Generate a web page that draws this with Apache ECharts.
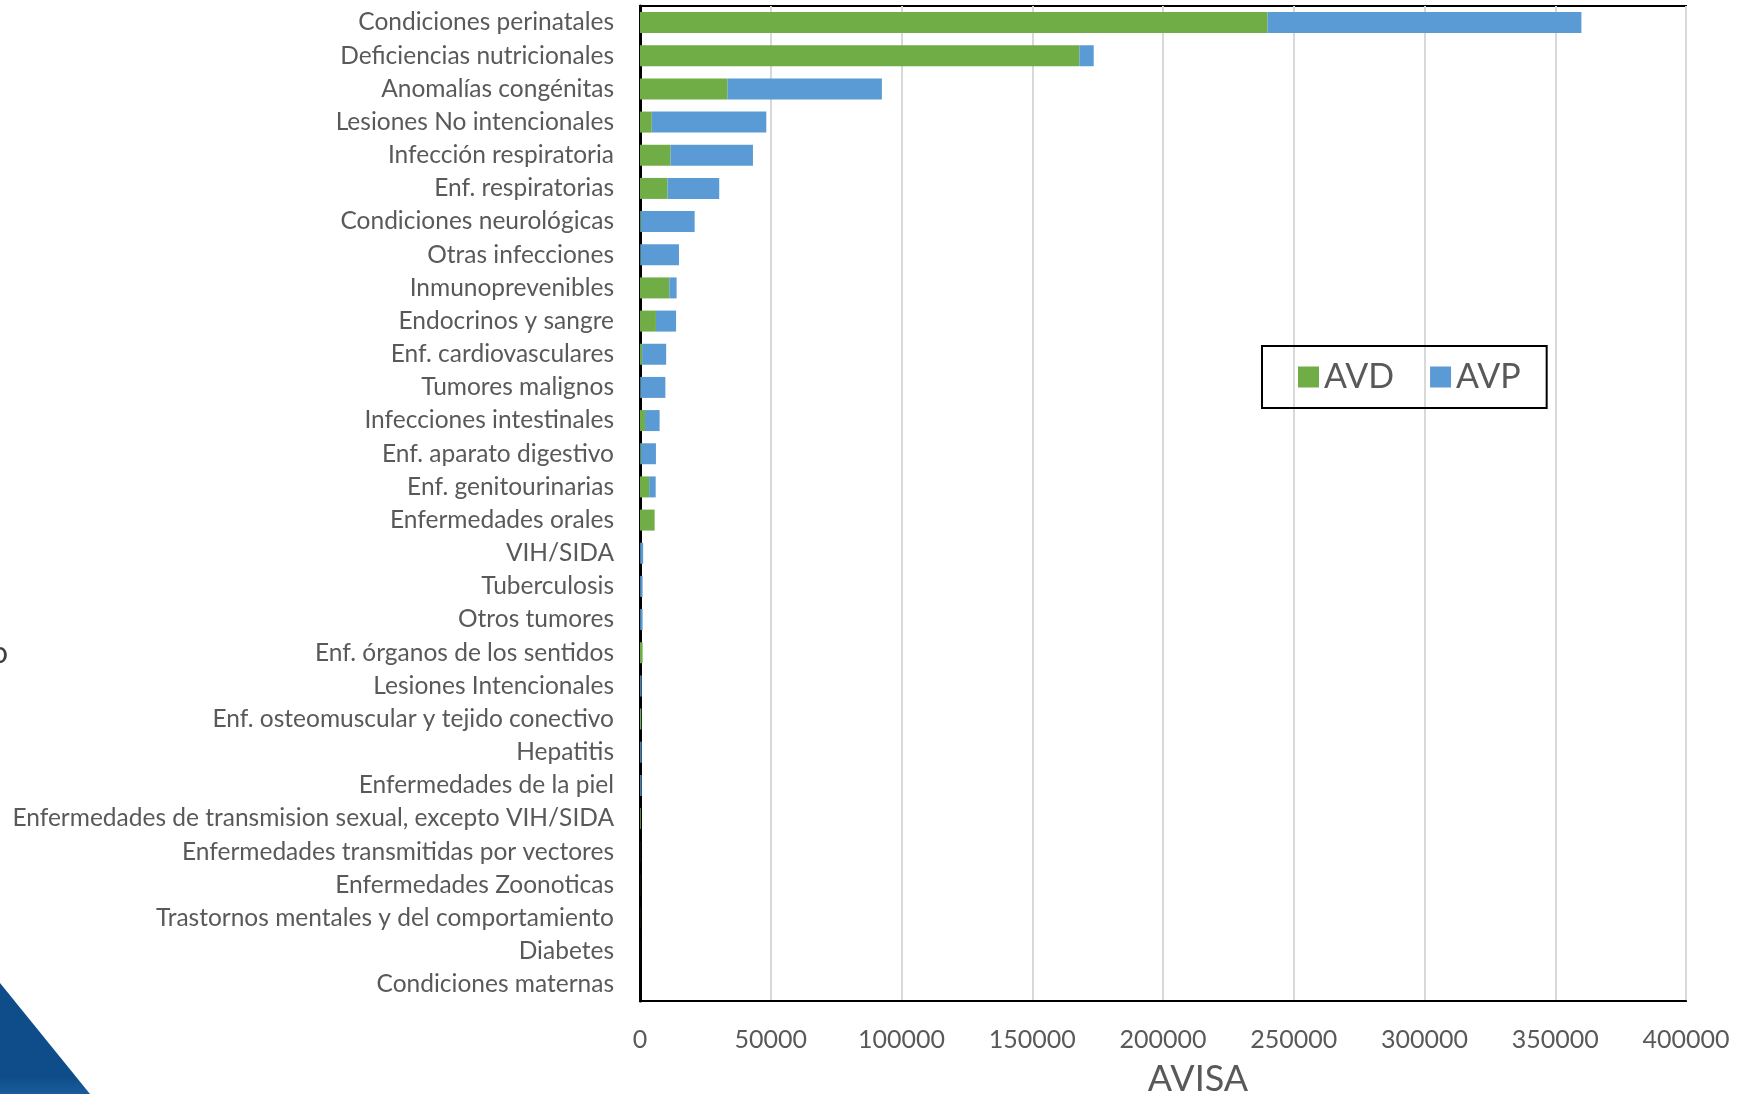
<!DOCTYPE html>
<html>
<head>
<meta charset="utf-8">
<script src="https://cdn.jsdelivr.net/npm/echarts@6/dist/echarts.min.js"></script>
<style>
  html, body { margin: 0; padding: 0; background: #fff; }
  #main { width: 1752px; height: 1094px; }
</style>
</head>
<body>
<div id="main"></div>
<script>
  // categorias (de arriba hacia abajo)
  var categories = [
    'Condiciones perinatales', 'Deficiencias nutricionales', 'Anomalías congénitas',
    'Lesiones No intencionales', 'Infección respiratoria', 'Enf. respiratorias',
    'Condiciones neurológicas', 'Otras infecciones', 'Inmunoprevenibles',
    'Endocrinos y sangre', 'Enf. cardiovasculares', 'Tumores malignos',
    'Infecciones intestinales', 'Enf. aparato digestivo', 'Enf. genitourinarias',
    'Enfermedades orales', 'VIH/SIDA', 'Tuberculosis', 'Otros tumores',
    'Enf. órganos de los sentidos', 'Lesiones Intencionales',
    'Enf. osteomuscular y tejido conectivo', 'Hepatitis', 'Enfermedades de la piel',
    'Enfermedades de transmision sexual, excepto VIH/SIDA',
    'Enfermedades transmitidas por vectores', 'Enfermedades Zoonoticas',
    'Trastornos mentales y del comportamiento', 'Diabetes', 'Condiciones maternas'
  ];
  var avd = [240000, 168000, 33500, 4500, 11700, 10500, 300, 200, 11200, 6100,
             800, 200, 1900, 300, 3500, 5600, 100, 100, 100, 1000,
             100, 400, 100, 100, 300, 50, 50, 50, 20, 0];
  var avp = [120000, 5500, 59000, 43800, 31500, 19800, 20600, 14700, 2800, 7700,
             9200, 9500, 5600, 5800, 2500, 0, 1100, 900, 900, 0,
             500, 100, 500, 500, 0, 0, 0, 0, 0, 0];
  var xTicks = [0, 50000, 100000, 150000, 200000, 250000, 300000, 350000, 400000];

  var font = 'Lato';
  var gray = '#595959';

  var myChart = echarts.init(document.getElementById('main'));
  var option = {
    backgroundColor: '#fff',
    textStyle: { fontFamily: font },
    legend: {
      data: ['AVD', 'AVP'],
      left: 1262,
      top: 346,
      orient: 'horizontal',
      icon: 'rect',
      itemWidth: 21,
      itemHeight: 21,
      itemGap: 36,
      padding: [14, 26, 14, 36],
      borderColor: '#000',
      borderWidth: 2,
      textStyle: { fontSize: 34, color: gray, fontFamily: font }
    },
    grid: {
      left: 640,
      right: 66,
      top: 6,
      bottom: 93,
      show: true,
      borderColor: '#000',
      borderWidth: 2,
      containLabel: false,
      outerBoundsMode: 'none'
    },
    xAxis: {
      type: 'value',
      min: xTicks[0],
      max: xTicks[xTicks.length - 1],
      interval: xTicks[1] - xTicks[0],
      name: 'AVISA',
      nameLocation: 'middle',
      nameGap: 60,
      nameTextStyle: { fontSize: 36, color: gray, fontFamily: font, padding: [0, 0, 0, 70] },
      axisLine: { show: true, lineStyle: { color: '#000', width: 2 } },
      axisTick: { show: false },
      axisLabel: {
        fontSize: 25,
        color: gray,
        margin: 26,
        formatter: function (v) { return String(v); }
      },
      splitLine: { show: true, lineStyle: { color: '#d9d9d9', width: 2 } }
    },
    yAxis: {
      type: 'category',
      inverse: true,
      data: categories,
      axisLine: { show: true, lineStyle: { color: '#000', width: 3 } },
      axisTick: { show: false },
      axisLabel: { fontSize: 24.5, color: gray, margin: 26 }
    },
    series: [
      {
        name: 'AVD',
        type: 'bar',
        stack: 'total',
        barWidth: 21,
        itemStyle: { color: '#70ad47' },
        data: avd
      },
      {
        name: 'AVP',
        type: 'bar',
        stack: 'total',
        barWidth: 21,
        itemStyle: { color: '#5b9bd5' },
        data: avp
      }
    ],
    graphic: [
      {
        type: 'polygon',
        z: -1,
        shape: { points: [[0, 983], [90, 1094], [0, 1094]] },
        style: {
          fill: new echarts.graphic.LinearGradient(0, 0, 0, 1, [
            { offset: 0, color: '#0e4d89' },
            { offset: 0.85, color: '#0e4d89' },
            { offset: 1, color: '#1a5c9c' }
          ])
        }
      },
      {
        type: 'text',
        left: -9,
        top: 638,
        style: { text: 'o', fontSize: 30, fill: '#404040', fontFamily: font }
      }
    ]
  };
  myChart.setOption(option);
</script>
</body>
</html>
